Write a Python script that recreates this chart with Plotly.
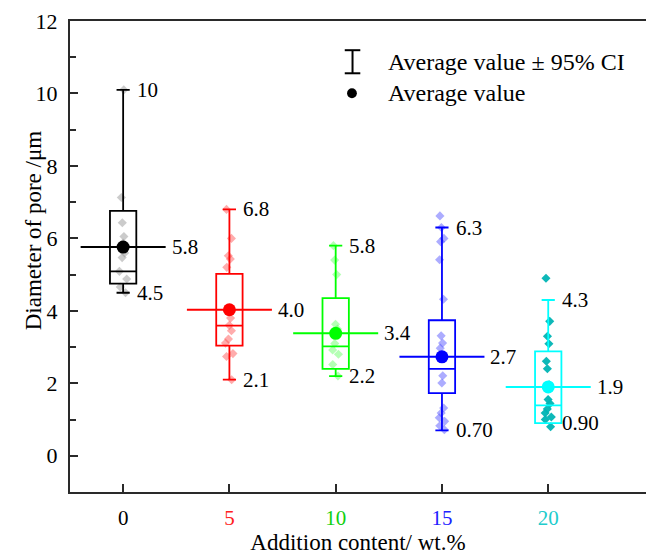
import math
import plotly.graph_objects as go

# Addition content groups (wt.%) and their styling
positions = [0, 5, 10, 15, 20]
tick_labels = ["0", "5", "10", "15", "20"]
line_colors = ["#000000", "#ff0000", "#00ff00", "#0000ff", "#00ffff"]
tick_colors = ["#000000", "#ff2020", "#10d010", "#2020ff", "#20cccc"]
point_colors = ["rgba(140,140,140,0.45)", "rgba(255,70,70,0.45)",
                "rgba(70,255,70,0.4)", "rgba(70,70,255,0.45)", "rgba(0,180,180,0.95)"]

# Box statistics of pore diameter (um)
q1 = [4.75, 3.04, 2.40, 1.73, 0.90]
median = [5.09, 3.59, 3.02, 2.40, 1.39]
q3 = [6.76, 5.02, 4.35, 3.74, 2.88]
whisker_low = [4.5, 2.1, 2.2, 0.70, 0.90]
whisker_high = [10.1, 6.8, 5.8, 6.3, 4.3]
mean = [5.76, 4.03, 3.38, 2.73, 1.90]
ci_halfwidth = [2.0, 2.0, 2.0, 2.0, 2.0]

# Individual measurements per group
samples = [
    [10.1, 7.13, 6.43, 6.05, 5.87, 5.6, 5.47, 5.09, 4.88, 4.66, 4.5],
    [6.8, 6.0, 5.52, 5.43, 5.2, 4.0, 3.8, 3.6, 3.45, 3.22, 3.11, 2.82, 2.74, 2.1],
    [5.8, 5.4, 5.0, 3.63, 3.5, 3.1, 2.92, 2.8, 2.52, 2.2],
    [6.62, 6.3, 6.0, 5.91, 5.41, 4.32, 3.31, 3.11, 2.97, 2.73, 2.21, 2.01,
     1.32, 1.18, 1.05, 0.95, 0.83, 0.72],
    [4.9, 3.71, 3.3, 3.09, 2.61, 2.40, 1.96, 1.55, 1.44, 1.29, 1.18, 1.07, 1.0, 0.80],
]

FONT = "Liberation Serif, Times New Roman, serif"
BOX_W = 1.24
CAP_HALF = BOX_W * 0.5 / 2


def fmt2(v):
    """Two significant digits, keeping trailing zeros (0.70, 4.0, 10)."""
    dec = max(0, 1 - math.floor(math.log10(abs(v))))
    return f"{v:.{dec}f}"


fig = go.Figure()

for i, pos in enumerate(positions):
    # scattered raw points behind the box
    fig.add_trace(go.Box(
        x=[pos] * len(samples[i]), y=samples[i],
        boxpoints="all", jitter=0.35, pointpos=0, width=BOX_W,
        line=dict(width=0, color="rgba(0,0,0,0)"), fillcolor="rgba(0,0,0,0)",
        marker=dict(symbol="diamond", size=7, color=point_colors[i]),
        showlegend=False, hoverinfo="skip",
    ))
    # box with whiskers from precomputed statistics
    fig.add_trace(go.Box(
        x=[pos], q1=[q1[i]], median=[median[i]], q3=[q3[i]],
        lowerfence=[whisker_low[i]], upperfence=[whisker_high[i]],
        width=BOX_W, whiskerwidth=0.5, boxpoints=False,
        line=dict(color=line_colors[i], width=1.8), fillcolor="rgba(0,0,0,0)",
        showlegend=False, hoverinfo="skip",
    ))
    # mean with horizontal interval line
    fig.add_trace(go.Scatter(
        x=[pos], y=[mean[i]], mode="markers",
        marker=dict(symbol="circle", size=13, color=line_colors[i]),
        error_x=dict(type="constant", value=ci_halfwidth[i], width=0,
                     color=line_colors[i], thickness=2),
        showlegend=False, hoverinfo="skip",
    ))
    # value labels
    fig.add_annotation(x=pos + ci_halfwidth[i], y=mean[i], text=fmt2(mean[i]),
                       xanchor="left", yanchor="middle", xshift=4, showarrow=False)
    fig.add_annotation(x=pos + CAP_HALF, y=whisker_high[i], text=fmt2(whisker_high[i]),
                       xanchor="left", yanchor="middle", xshift=5, showarrow=False)
    fig.add_annotation(x=pos + CAP_HALF, y=whisker_low[i], text=fmt2(whisker_low[i]),
                       xanchor="left", yanchor="middle", xshift=5, showarrow=False)

# legend drawn in paper coordinates
LEG_X = 0.4905
fig.add_shape(type="line", xref="paper", yref="paper", x0=LEG_X, x1=LEG_X,
              y0=0.889, y1=0.938, line=dict(color="black", width=2))
for yy in (0.889, 0.938):
    fig.add_shape(type="line", xref="paper", yref="paper", x0=LEG_X - 0.0135,
                  x1=LEG_X + 0.0135, y0=yy, y1=yy, line=dict(color="black", width=2))
fig.add_shape(type="circle", xref="paper", yref="paper", x0=0.481, x1=0.498,
              y0=0.836, y1=0.857, fillcolor="black", line=dict(color="black", width=0))
fig.add_annotation(xref="paper", yref="paper", x=0.549, y=0.912,
                   text="Average value ± 95% CI", xanchor="left", yanchor="middle",
                   showarrow=False, font=dict(size=24))
fig.add_annotation(xref="paper", yref="paper", x=0.549, y=0.847,
                   text="Average value", xanchor="left", yanchor="middle",
                   showarrow=False, font=dict(size=24))

# y-axis title placed next to the single-digit tick labels
fig.add_annotation(xref="paper", yref="paper", x=-0.064, y=0.556, textangle=-90,
                   text="Diameter of pore /μm", xanchor="center", yanchor="middle",
                   showarrow=False, font=dict(size=23))

axis_line = dict(showline=True, linecolor="#2a2a2a", linewidth=2, showgrid=False,
                 zeroline=False, ticks="inside", tickcolor="#2a2a2a", tickwidth=2)

fig.update_xaxes(
    **axis_line, mirror=True, range=[-2.5, 24.6], ticklen=8,
    tickvals=positions,
    ticktext=[f'<span style="color:{c}">{t}</span>' for t, c in zip(tick_labels, tick_colors)],
    title=dict(text="Addition content/ wt.%", font=dict(size=23), standoff=3),
    tickfont=dict(size=21), ticklabelstandoff=6,
)
fig.update_yaxes(
    **axis_line, mirror=False, range=[-1, 12], tickvals=list(range(0, 13, 2)), ticklen=8,
    minor=dict(ticks="inside", dtick=1, ticklen=6, tickcolor="#2a2a2a", tickwidth=2),
    tickfont=dict(size=22), ticklabelstandoff=6,
)

fig.update_layout(
    width=646, height=555,
    margin=dict(l=70, r=0, t=21, b=63),
    paper_bgcolor="white", plot_bgcolor="white",
    font=dict(family=FONT, size=21, color="black"),
    boxmode="overlay",
)

fig.write_html("out.html")
